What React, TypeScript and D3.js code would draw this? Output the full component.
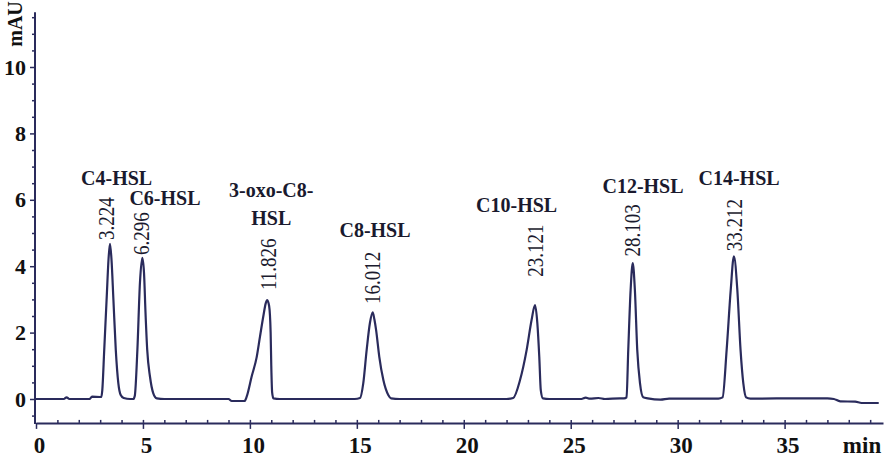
import { axisBottom, axisLeft, axisTop, curveMonotoneX, line, range, scaleLinear, select } from "d3";
import { useEffect, useRef } from "react";

const W = 889;
const H = 458;

// chromatogram trace [min, mAU]
const trace: [number, number][] = [
  [0, 0], [1.3, 0], [1.43, 0.05], [1.56, 0], [2.5, 0], [2.62, 0.07], [3.0, 0.06],
  // C4-HSL
  [3.05, 0.06], [3.1, 0.27], [3.19, 1.48], [3.3, 2.98], [3.4, 4.3], [3.46, 4.67], [3.53, 4.2],
  [3.62, 2.98], [3.73, 1.48], [3.85, 0.47], [3.96, 0.12], [4.1, 0.03], [4.4, 0.0],
  // C6-HSL
  [4.55, 0], [4.62, 0.1], [4.74, 1.48], [4.86, 3.5], [4.97, 4.25], [5.05, 3.8], [5.12, 2.6],
  [5.2, 1.48], [5.33, 0.67], [5.48, 0.18], [5.65, 0.02], [6.0, 0],
  // 3-oxo-C8-HSL
  [9.0, 0], [9.15, -0.06], [9.75, -0.06], [9.85, 0.07], [10.08, 0.67], [10.32, 1.27],
  [10.47, 1.87], [10.63, 2.5], [10.74, 2.88], [10.81, 2.98], [10.9, 2.8], [10.97, 2.0],
  [11.0, 1.0], [11.04, 0.2], [11.1, 0.02], [11.4, 0],
  // C8-HSL
  [14.9, 0], [15.15, 0.03], [15.3, 0.47], [15.46, 1.48], [15.61, 2.28], [15.74, 2.61],
  [15.82, 2.4], [15.9, 2.08], [16.05, 1.27], [16.24, 0.57], [16.47, 0.12], [16.6, 0.02], [17.0, 0],
  // C10-HSL
  [22.0, 0], [22.31, 0.03], [22.63, 0.57], [22.94, 1.48], [23.17, 2.38], [23.33, 2.83],
  [23.44, 2.28], [23.53, 1.27], [23.6, 0.27], [23.7, 0.02], [24.0, 0],
  [25.5, 0], [25.7, 0.04], [25.9, 0.01], [26.3, 0.03], [26.6, 0], [27.3, 0.02],
  // C12-HSL
  [27.5, 0.02], [27.61, 0.05], [27.69, 1.48], [27.8, 3.28], [27.9, 4.09], [28.0, 3.28],
  [28.11, 1.48], [28.24, 0.47], [28.39, 0.05], [28.6, 0.02], [29.2, -0.02], [29.6, 0.01],
  // C14-HSL
  [31.9, 0.01], [32.1, 0.05], [32.29, 1.48], [32.48, 3.28], [32.63, 4.3], [32.79, 3.28],
  [32.94, 1.48], [33.07, 0.47], [33.2, 0.05], [33.4, 0.01],
  [35.5, 0.02], [37.0, 0.02], [37.3, 0], [37.6, -0.07], [38.3, -0.08], [38.6, -0.12], [39.4, -0.12],
];

const peakNames = ["C4-HSL", "C6-HSL", "3-oxo-C8-|HSL", "C8-HSL", "C10-HSL", "C12-HSL", "C14-HSL"];
const nameX = [3.77, 6.03, 11.0, 15.85, 22.47, 28.38, 32.87];
const nameY = [6.45, 5.84, 6.08, 4.88, 5.63, 6.2, 6.45];

const retention = ["3.224", "6.296", "11.826", "16.012", "23.121", "28.103", "33.212"];
const rtX = [3.3, 4.94, 10.85, 15.74, 23.33, 27.9, 32.63];
const rtY = [4.79, 4.34, 3.28, 2.86, 3.68, 4.29, 4.45];

const xMajor = [0, 5, 10, 15, 20, 25, 30, 35];
const yMajor = [0, 2, 4, 6, 8, 10];

const ink = "#2a2b5c";
const font = "'Liberation Serif', 'Times New Roman', serif";

const Chromatogram = () => {
  const ref = useRef<SVGSVGElement>(null);

  useEffect(() => {
    if (!ref.current) return;
    const svg = select(ref.current);
    svg.selectAll("*").remove();

    const x = scaleLinear().domain([0, 39.6]).range([36, 883]);
    const y = scaleLinear().domain([0, 10]).range([399, 67]);
    const yBottom = y(-0.72);
    const yTop = y(11.65);

    // x axis
    const xAxis = axisBottom(x)
      .tickValues(xMajor)
      .tickSize(6)
      .tickSizeOuter(0)
      .tickFormat((d) => String(d));
    const gx = svg.append("g").attr("transform", `translate(0,${yBottom})`).call(xAxis);
    gx.select(".domain").attr("stroke", ink).attr("stroke-width", 2);
    gx.selectAll(".tick line").attr("stroke", ink).attr("stroke-width", 1.5);
    gx.selectAll(".tick text")
      .attr("fill", "#111")
      .attr("font-family", font)
      .attr("font-weight", "bold")
      .attr("font-size", 23)
      .attr("dx", 3)
      .attr("dy", 0)
      .attr("y", 30);

    const gxMinor = svg
      .append("g")
      .attr("transform", `translate(0,${yBottom})`)
      .call(axisTop(x).tickValues(range(1, 40)).tickSize(3).tickSizeOuter(0).tickFormat(() => ""));
    gxMinor.select(".domain").remove();
    gxMinor.selectAll(".tick line").attr("stroke", ink).attr("stroke-width", 1.5);

    svg
      .append("text")
      .attr("x", 862)
      .attr("y", yBottom + 30)
      .attr("text-anchor", "middle")
      .attr("font-family", font)
      .attr("font-weight", "bold")
      .attr("font-size", 23)
      .attr("fill", "#111")
      .text("min");

    // y axis
    const gy = svg
      .append("g")
      .attr("transform", "translate(35,0)")
      .call(axisLeft(y).tickValues(yMajor).tickSize(5).tickSizeOuter(0).tickPadding(4));
    gy.select(".domain").remove();
    gy.selectAll(".tick line").attr("stroke", ink).attr("stroke-width", 1.5);
    gy.selectAll(".tick text")
      .attr("fill", "#111")
      .attr("font-family", font)
      .attr("font-weight", "bold")
      .attr("font-size", 22);

    const gyMinor = svg
      .append("g")
      .attr("transform", "translate(35,0)")
      .call(
        axisLeft(y)
          .tickValues(range(-0.5, 11.6, 0.5).filter((v) => Math.abs(v % 2) > 0.01))
          .tickSize(3)
          .tickSizeOuter(0)
          .tickFormat(() => "")
      );
    gyMinor.select(".domain").remove();
    gyMinor.selectAll(".tick line").attr("stroke", ink).attr("stroke-width", 1.5);

    svg
      .append("line")
      .attr("x1", 35)
      .attr("x2", 35)
      .attr("y1", yTop)
      .attr("y2", yBottom + 1)
      .attr("stroke", ink)
      .attr("stroke-width", 2);

    svg
      .append("text")
      .attr("transform", "translate(22,24) rotate(-90)")
      .attr("text-anchor", "middle")
      .attr("font-family", font)
      .attr("font-weight", "bold")
      .attr("font-size", 20)
      .attr("fill", "#111")
      .text("mAU");

    // trace
    const path = line<[number, number]>()
      .x((d) => x(d[0]))
      .y((d) => y(d[1]))
      .curve(curveMonotoneX);
    svg
      .append("path")
      .attr("d", path(trace))
      .attr("fill", "none")
      .attr("stroke", ink)
      .attr("stroke-width", 2.2)
      .attr("stroke-linejoin", "round");

    // peak names
    peakNames.forEach((name, i) => {
      const lines = name.split("|");
      lines.forEach((ln, j) => {
        svg
          .append("text")
          .attr("x", x(nameX[i]))
          .attr("y", j === 0 ? y(nameY[i]) : y(5.24))
          .attr("text-anchor", "middle")
          .attr("font-family", font)
          .attr("font-weight", "bold")
          .attr("font-size", 20)
          .attr("fill", "#1a1a2e")
          .text(ln);
      });
    });

    // retention times
    retention.forEach((rt, i) => {
      svg
        .append("text")
        .attr("transform", `translate(${x(rtX[i])},${y(rtY[i])}) rotate(-90) scale(1,1.2)`)
        .attr("dominant-baseline", "central")
        .attr("font-family", font)
        .attr("font-size", 19)
        .attr("fill", "#1a1a2e")
        .text(rt);
    });
  }, []);

  return <svg ref={ref} width={W} height={H} style={{ position: "absolute", left: 0, top: 0, background: "#fff" }} />;
};

export default function App() {
  return <Chromatogram />;
}
